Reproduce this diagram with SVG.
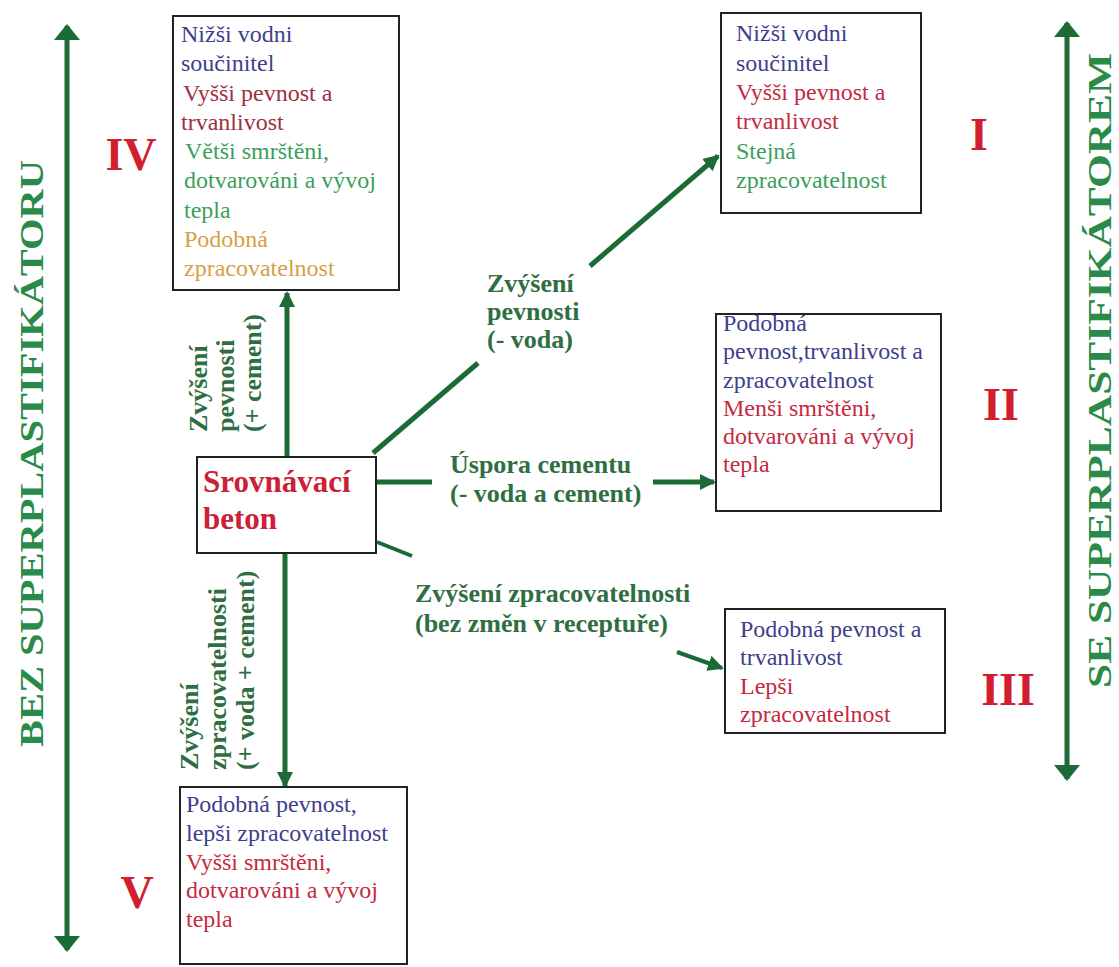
<svg xmlns="http://www.w3.org/2000/svg" width="1119" height="967" viewBox="0 0 1119 967">
<style>
  .box { fill: #ffffff; stroke: #222222; stroke-width: 2; }
  .t { font-family: 'Liberation Serif', Tinos, 'Times New Roman', 'DejaVu Serif', serif; font-size: 24px; }
  .blue { fill: #3d3f8c; }
  .red { fill: #c42a40; }
  .dred { fill: #9e3040; }
  .grn { fill: #3a9f5c; }
  .org { fill: #d6a048; }
  .lbl { font-family: 'Liberation Serif', Tinos, 'Times New Roman', 'DejaVu Serif', serif; font-size: 26px; font-weight: bold; fill: #2f6e42; }
  .num { font-family: 'Liberation Serif', Tinos, 'Times New Roman', 'DejaVu Serif', serif; font-size: 46px; font-weight: bold; fill: #d21f30; text-anchor: middle; }
  .big { font-family: 'Liberation Serif', Tinos, 'Times New Roman', 'DejaVu Serif', serif; font-size: 33px; font-weight: bold; fill: #2a8a4a; }
  .main { font-family: 'Liberation Serif', Tinos, 'Times New Roman', 'DejaVu Serif', serif; font-size: 31px; font-weight: bold; fill: #cc2038; }
  .conn { stroke: #1c6b36; stroke-width: 5; fill: none; }
</style>
<defs>
  <marker id="ah" markerUnits="userSpaceOnUse" markerWidth="16" markerHeight="16" viewBox="0 0 16 16" refX="14" refY="8" orient="auto">
    <path d="M0,0 L16,8 L0,16 z" fill="#1c6b36"/>
  </marker>
  <marker id="bh" markerUnits="userSpaceOnUse" markerWidth="16" markerHeight="26" viewBox="0 0 16 26" refX="14" refY="13" orient="auto-start-reverse">
    <path d="M0,0 L16,13 L0,26 z" fill="#1c6b36"/>
  </marker>
</defs>
<rect width="1119" height="967" fill="#ffffff"/>

<g id="connectors">
  <line class="conn" x1="67" y1="26" x2="67" y2="950" marker-start="url(#bh)" marker-end="url(#bh)"/>
  <line class="conn" x1="1067" y1="23" x2="1067" y2="779" marker-start="url(#bh)" marker-end="url(#bh)"/>
  <line class="conn" x1="287" y1="457" x2="287" y2="293" marker-end="url(#ah)"/>
  <line class="conn" x1="285" y1="553" x2="285" y2="786" marker-end="url(#ah)"/>
  <line class="conn" x1="373" y1="453" x2="478" y2="363"/>
  <line class="conn" x1="590" y1="266" x2="718" y2="156" marker-end="url(#ah)"/>
  <line class="conn" x1="376" y1="482" x2="432" y2="482"/>
  <line class="conn" x1="653" y1="482" x2="714" y2="482" marker-end="url(#ah)"/>
  <line class="conn" x1="377" y1="542" x2="412" y2="556" style="stroke-width:4"/>
  <line class="conn" x1="677" y1="652" x2="722" y2="668" style="stroke-width:4" marker-end="url(#ah)"/>
</g>

<g id="edge-labels">
  <text class="lbl" transform="rotate(-90 207 432)" x="207" y="432">Zvýšení</text>
  <text class="lbl" transform="rotate(-90 234 432)" x="234" y="432">pevnosti</text>
  <text class="lbl" transform="rotate(-90 261 432)" x="261" y="432">(+ cement)</text>

  <text class="lbl" transform="rotate(-90 198 770)" x="198" y="770">Zvýšení</text>
  <text class="lbl" transform="rotate(-90 226 770)" x="226" y="770">zpracovatelnosti</text>
  <text class="lbl" transform="rotate(-90 254 770)" x="254" y="770">(+ voda + cement)</text>

  <text class="lbl" x="487" y="292">Zvýšení</text>
  <text class="lbl" x="487" y="320">pevnosti</text>
  <text class="lbl" x="487" y="348">(- voda)</text>

  <text class="lbl" x="450" y="473">Úspora cementu</text>
  <text class="lbl" x="450" y="502">(- voda a cement)</text>

  <text class="lbl" x="415" y="602">Zvýšení zpracovatelnosti</text>
  <text class="lbl" x="415" y="632">(bez změn v receptuře)</text>
</g>

<g id="side-left">
  <text class="big" transform="rotate(-90 43 747)" x="43" y="747" textLength="587" lengthAdjust="spacingAndGlyphs">BEZ SUPERPLASTIFIKÁTORU</text>
</g>
<g id="side-right">
  <text class="big" transform="rotate(-90 1111 688)" x="1111" y="688" textLength="635" lengthAdjust="spacingAndGlyphs">SE SUPERPLASTIFIKÁTOREM</text>
</g>

<g id="numerals">
  <text class="num" x="131" y="170">IV</text>
  <text class="num" x="979" y="150">I</text>
  <text class="num" x="1001" y="420">II</text>
  <text class="num" x="1008" y="705">III</text>
  <text class="num" x="137" y="908">V</text>
</g>

<g id="node-center">
  <rect class="box" x="197" y="457" width="179" height="96"/>
  <text class="main" x="203" y="492">Srovnávací</text>
  <text class="main" x="203" y="529">beton</text>
</g>

<g id="node-IV">
  <rect class="box" x="173" y="16" width="226" height="274"/>
  <text class="t blue" x="181" y="42">Nižši vodni</text>
  <text class="t blue" x="181" y="71">součinitel</text>
  <text class="t dred" x="183" y="101">Vyšši pevnost a</text>
  <text class="t dred" x="181" y="130">trvanlivost</text>
  <text class="t grn" x="185" y="159">Větši smrštěni,</text>
  <text class="t grn" x="184" y="188">dotvarováni a vývoj</text>
  <text class="t grn" x="184" y="218">tepla</text>
  <text class="t org" x="184" y="247">Podobná</text>
  <text class="t org" x="184" y="276">zpracovatelnost</text>
</g>

<g id="node-I">
  <rect class="box" x="721" y="13" width="200" height="200"/>
  <text class="t blue" x="736" y="41">Nižši vodni</text>
  <text class="t blue" x="736" y="71">součinitel</text>
  <text class="t red" x="736" y="100">Vyšši pevnost a</text>
  <text class="t red" x="736" y="129">trvanlivost</text>
  <text class="t grn" x="736" y="159">Stejná</text>
  <text class="t grn" x="736" y="188">zpracovatelnost</text>
</g>

<g id="node-II">
  <rect class="box" x="716" y="314" width="225" height="197"/>
  <text class="t blue" x="723" y="331">Podobná</text>
  <text class="t blue" x="723" y="359">pevnost,trvanlivost a</text>
  <text class="t blue" x="723" y="388">zpracovatelnost</text>
  <text class="t red" x="723" y="416">Menši smrštěni,</text>
  <text class="t red" x="723" y="444">dotvarováni a vývoj</text>
  <text class="t red" x="723" y="472">tepla</text>
</g>

<g id="node-III">
  <rect class="box" x="725" y="609" width="220" height="124"/>
  <text class="t blue" x="740" y="637">Podobná pevnost a</text>
  <text class="t blue" x="740" y="665">trvanlivost</text>
  <text class="t red" x="740" y="694">Lepši</text>
  <text class="t red" x="740" y="722">zpracovatelnost</text>
</g>

<g id="node-V">
  <rect class="box" x="180" y="787" width="227" height="177"/>
  <text class="t blue" x="186" y="812">Podobná pevnost,</text>
  <text class="t blue" x="186" y="841">lepši zpracovatelnost</text>
  <text class="t red" x="186" y="870">Vyšši smrštěni,</text>
  <text class="t red" x="186" y="898">dotvarováni a vývoj</text>
  <text class="t red" x="186" y="927">tepla</text>
</g>
</svg>
